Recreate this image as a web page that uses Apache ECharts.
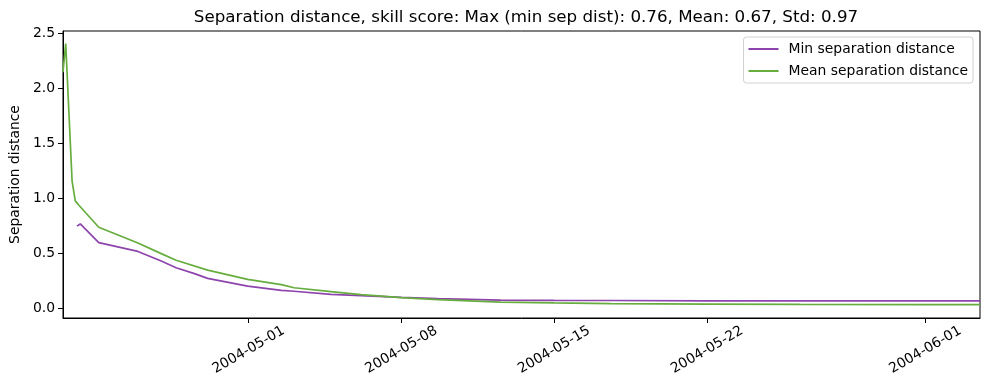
<!DOCTYPE html>
<html>
<head>
<meta charset="utf-8">
<script src="https://cdn.jsdelivr.net/npm/echarts@6/dist/echarts.min.js"></script>
<style>html,body{margin:0;padding:0;background:#fff}#c{width:989px;height:390px}</style>
</head>
<body>
<div id="c"></div>
<script>
// ---- data ----
const titleText = 'Separation distance, skill score: Max (min sep dist): 0.76, Mean: 0.67, Std: 0.97';
const seriesNames = ['Min separation distance', 'Mean separation distance'];
const minTimes = ['2004-04-23 03:20','2004-04-23 07:00','2004-04-24 03:20','2004-04-25 22:20','2004-04-27 00:00','2004-04-27 16:20','2004-04-28 12:30','2004-04-29 03:00','2004-04-30 23:00','2004-05-02 12:00','2004-05-03 02:00','2004-05-04 18:30','2004-05-06 03:30','2004-05-08 00:00','2004-05-09 16:00','2004-05-12 13:00','2004-05-15 00:00','2004-05-17 14:00','2004-05-22 00:00','2004-05-26 06:00','2004-06-01 00:00','2004-06-03 12:00'];
const minValues = [0.75,0.77,0.60,0.52,0.433,0.372,0.318,0.275,0.205,0.166,0.158,0.13,0.118,0.103,0.091,0.078,0.075,0.074,0.071,0.071,0.071,0.071];
const meanTimes = ['2004-04-22 12:00','2004-04-22 15:00','2004-04-22 22:00','2004-04-23 01:30','2004-04-23 05:30','2004-04-24 03:20','2004-04-25 22:20','2004-04-27 00:00','2004-04-27 16:20','2004-04-29 03:00','2004-04-30 23:00','2004-05-02 12:00','2004-05-03 02:00','2004-05-04 18:30','2004-05-06 03:30','2004-05-08 00:00','2004-05-09 16:00','2004-05-12 13:00','2004-05-15 00:00','2004-05-17 14:00','2004-05-22 00:00','2004-05-26 06:00','2004-06-01 00:00','2004-06-03 12:00'];
const meanValues = [2.15,2.41,1.16,0.98,0.94,0.74,0.597,0.50,0.44,0.35,0.266,0.218,0.19,0.155,0.127,0.10,0.082,0.06,0.052,0.046,0.042,0.039,0.037,0.036];
const xTickLabels = ['2004-05-01','2004-05-08','2004-05-15','2004-05-22','2004-06-01'];
const yTickValues = [0, 0.5, 1.0, 1.5, 2.0, 2.5];
const xRange = ['2004-04-22 12:00', '2004-06-03 12:00'];
const yRange = [-0.085, 2.524];

const pd = s => echarts.number.parseDate(s).getTime();
const zip = (ts, vs) => ts.map((t, i) => [pd(t), vs[i]]);
const xTickVals = xTickLabels.map(s => pd(s + ' 00:00'));

const chart = echarts.init(document.getElementById('c'), null, {renderer: 'canvas'});
const font = 'DejaVu Sans';
const fs = 13.9;
chart.setOption({
  animation: false,
  textStyle: {fontFamily: font},
  title: {
    text: titleText, left: 521, top: 4, textAlign: 'center',
    textStyle: {fontFamily: font, fontSize: 16.7, fontWeight: 'normal', color: '#000'}
  },
  grid: {left: 62, right: 9, top: 31, bottom: 72, show: true, borderColor: '#000', borderWidth: 1, backgroundColor: 'transparent'},
  legend: {
    orient: 'vertical', right: 16, top: 37,
    data: seriesNames,
    icon: 'rect', itemWidth: 30, itemHeight: 2, itemGap: 8,
    padding: [5, 5, 5, 5],
    borderColor: '#d0d0d0', borderWidth: 1, borderRadius: 3,
    textStyle: {fontFamily: font, fontSize: fs, color: '#000', padding: [0, 0, 0, 5]}
  },
  xAxis: {
    type: 'value', min: pd(xRange[0]), max: pd(xRange[1]),
    axisLine: {show: true, onZero: false, lineStyle: {color: '#000'}},
    axisTick: {show: true, customValues: xTickVals, length: 5, lineStyle: {color: '#000'}},
    splitLine: {show: false},
    axisLabel: {
      customValues: xTickVals, rotate: 30, align: 'center', verticalAlign: 'middle', margin: 32,
      fontFamily: font, fontSize: fs, color: '#000',
      formatter: v => echarts.time.format(v, '{yyyy}-{MM}-{dd}', false)
    }
  },
  yAxis: {
    type: 'value', min: yRange[0], max: yRange[1],
    name: 'Separation distance', nameLocation: 'middle', nameGap: 35,
    nameTextStyle: {fontFamily: font, fontSize: fs, color: '#000'},
    axisLine: {show: true, onZero: false, lineStyle: {color: '#000'}},
    axisTick: {show: true, customValues: yTickValues, length: 5, lineStyle: {color: '#000'}},
    splitLine: {show: false},
    axisLabel: {customValues: yTickValues, fontFamily: font, fontSize: fs, color: '#000', margin: 8,
      formatter: v => v.toFixed(1)}
  },
  series: [
    {name: seriesNames[0], type: 'line', data: zip(minTimes, minValues), symbol: 'none', smooth: false,
     lineStyle: {color: '#8e44ad', width: 1.7}, itemStyle: {color: '#8e44ad'}},
    {name: seriesNames[1], type: 'line', data: zip(meanTimes, meanValues), symbol: 'none', smooth: false,
     lineStyle: {color: '#66ad3e', width: 1.7}, itemStyle: {color: '#66ad3e'}}
  ]
});
</script>
</body>
</html>
